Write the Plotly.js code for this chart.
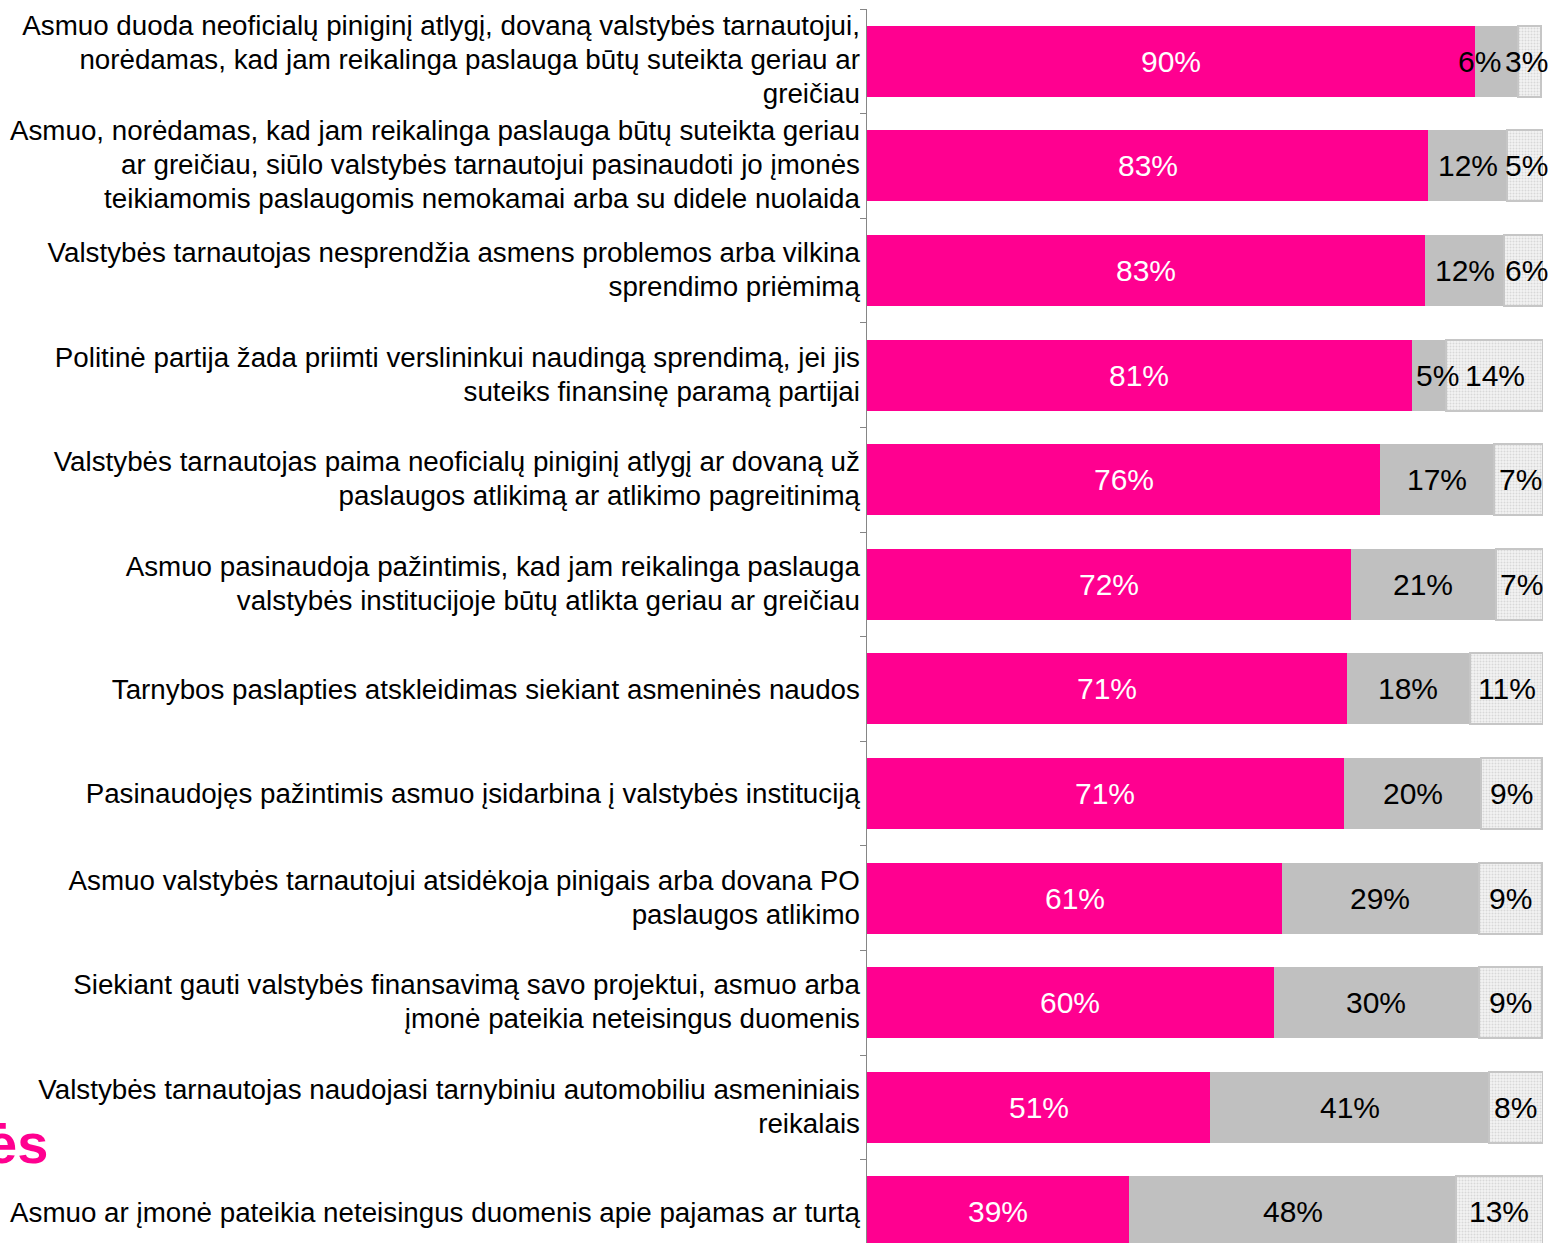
<!DOCTYPE html>
<html>
<head>
<meta charset="utf-8">
<script src="https://cdn.plot.ly/plotly-3.0.1.min.js"></script>
<style>html,body{margin:0;padding:0;background:#fff;}#chart{width:1550px;height:1243px;}</style>
</head>
<body>
<div id="chart"></div>
<script>
const categories = [
  "Asmuo duoda neoficialų piniginį atlygį, dovaną valstybės tarnautojui,<br>norėdamas, kad jam reikalinga paslauga būtų suteikta geriau ar<br>greičiau",
  "Asmuo, norėdamas, kad jam reikalinga paslauga būtų suteikta geriau<br>ar greičiau, siūlo valstybės tarnautojui pasinaudoti jo įmonės<br>teikiamomis paslaugomis nemokamai arba su didele nuolaida",
  "Valstybės tarnautojas nesprendžia asmens problemos arba vilkina<br>sprendimo priėmimą",
  "Politinė partija žada priimti verslininkui naudingą sprendimą, jei jis<br>suteiks finansinę paramą partijai",
  "Valstybės tarnautojas paima neoficialų piniginį atlygį ar dovaną už<br>paslaugos atlikimą ar atlikimo pagreitinimą",
  "Asmuo pasinaudoja pažintimis, kad jam reikalinga paslauga<br>valstybės institucijoje būtų atlikta geriau ar greičiau",
  "Tarnybos paslapties atskleidimas siekiant asmeninės naudos",
  "Pasinaudojęs pažintimis asmuo įsidarbina į valstybės instituciją",
  "Asmuo valstybės tarnautojui atsidėkoja pinigais arba dovana PO<br>paslaugos atlikimo",
  "Siekiant gauti valstybės finansavimą savo projektui, asmuo arba<br>įmonė pateikia neteisingus duomenis",
  "Valstybės tarnautojas naudojasi tarnybiniu automobiliu asmeniniais<br>reikalais",
  "Asmuo ar įmonė pateikia neteisingus duomenis apie pajamas ar turtą"
];
const series1 = [89.9, 83.0, 82.6, 80.6, 75.9, 71.6, 71.0, 70.5, 61.4, 60.2, 50.8, 38.8];
const series2 = [6.4, 11.7, 11.7, 5.1, 16.9, 21.4, 18.2, 20.4, 29.1, 30.3, 41.2, 48.3];
const series3 = [3.4, 5.3, 5.7, 14.3, 7.2, 7.0, 10.8, 9.0, 9.4, 9.4, 8.0, 12.9];
const overlayText = "ės";

const FONT = "Liberation Sans, Arial, sans-serif";
const W = 1550, H = 1243;
const M = {l: 867, r: 7, t: 9, b: 0};
const plotW = W - M.l - M.r;
const pxPer = plotW / 100;
const LABEL_SIZE = 30;
const TICK_SIZE = 27.75;
const LINE_PX = 34;

const colors = ["#FF0090", "#C0C0C0", "#F2F2F2"];
const textColors = ["#ffffff", "#000000", "#000000"];
const allSeries = [series1, series2, series3];

const traces = allSeries.map((s, k) => {
  const t = {type: "bar", orientation: "h", y: categories, x: s, hoverinfo: "none",
    marker: {color: colors[k]}};
  if (k === 2) {
    t.marker = {color: "#F2F2F2", line: {color: "#C6C6C6", width: 2},
      pattern: {shape: ".", bgcolor: "#F4F4F4", fgcolor: "#D8D8D8", size: 3, solidity: 0.35}};
  }
  return t;
});

// label placement: centred on each segment, nudged to avoid overlaps
const canvas = document.createElement("canvas");
const ctx = canvas.getContext("2d");
ctx.font = LABEL_SIZE + "px 'Liberation Sans'";
const maxRight = W - 2 - M.l;
const gap = 3;
const annotations = [];
categories.forEach((cat, i) => {
  let start = 0;
  const labs = allSeries.map((s, k) => {
    const v = s[i];
    const txt = Math.round(v) + "%";
    const segStart = start * pxPer, segW = v * pxPer;
    start += v;
    const w = ctx.measureText(txt).width;
    let c = segStart + segW / 2;
    if (k > 0 && w + 8 > segW) {
      const left = Math.max(c - w / 2, segStart + 4);
      c = left + w / 2;
    }
    if (c + w / 2 > maxRight) c = maxRight - w / 2;
    return {txt, w, c, k};
  });
  for (let j = labs.length - 2; j >= 1; j--) {
    const a = labs[j], b = labs[j + 1];
    if (a.c + a.w / 2 + gap > b.c - b.w / 2) a.c = b.c - b.w / 2 - gap - a.w / 2;
  }
  labs.forEach(l => {
    annotations.push({xref: "x", yref: "y", x: l.c / pxPer, y: cat, text: l.txt,
      showarrow: false, xanchor: "center", yanchor: "middle",
      font: {family: FONT, size: LABEL_SIZE, color: textColors[l.k]}});
  });
});
annotations.push({
  text: "<b>" + overlayText + "</b>", xref: "paper", yref: "paper",
  x: -1.2086, y: 0.081, xanchor: "right", yanchor: "middle", showarrow: false,
  font: {family: FONT, size: 56, color: "#FF0090"}
});

const layout = {
  width: W, height: H,
  margin: {l: M.l, r: M.r, t: M.t, b: M.b, pad: 0},
  barmode: "stack", bargap: 0.32, showlegend: false,
  paper_bgcolor: "#ffffff", plot_bgcolor: "#ffffff",
  font: {family: FONT, size: TICK_SIZE, color: "#000000"},
  xaxis: {range: [0, 100], visible: false, fixedrange: true},
  yaxis: {
    type: "category", range: [11.297, -0.5], autorange: false,
    showline: true, linecolor: "#868686", linewidth: 1.5,
    ticks: "outside", tickson: "boundaries", ticklen: 6, tickcolor: "#868686", tickwidth: 1,
    showgrid: false, zeroline: false,
    tickfont: {family: FONT, size: TICK_SIZE, color: "#000000"}, automargin: false
  },
  annotations: annotations
};
Plotly.newPlot("chart", traces, layout, {displayModeBar: false, staticPlot: true}).then(gd => {
  // tighten the line spacing of the multi-line category labels
  const k = LINE_PX / (1.3 * TICK_SIZE);
  gd.querySelectorAll(".ytick text tspan.line").forEach(t => {
    const dy = t.getAttribute("dy");
    if (dy && dy.endsWith("em")) t.setAttribute("dy", (parseFloat(dy) * k) + "em");
  });
});
</script>
</body>
</html>
